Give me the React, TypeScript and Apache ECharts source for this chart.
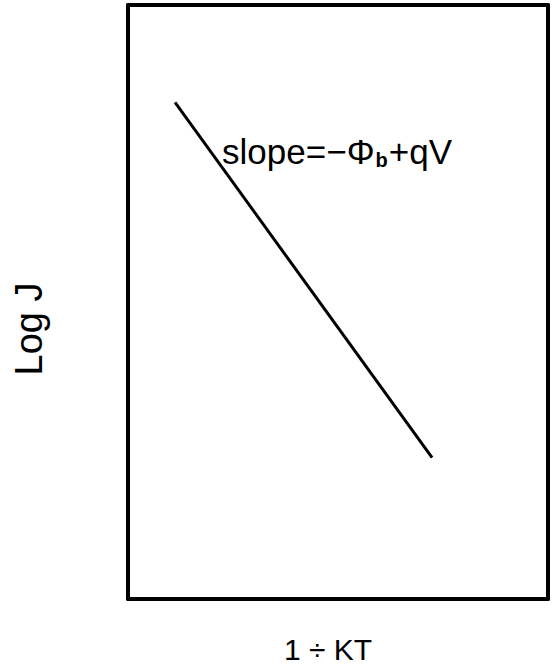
import React, { useEffect, useRef } from "react";
import * as echarts from "echarts";

// Schematic Arrhenius-type plot: Log J against 1/KT
const xRange = [0, 10];
const yRange = [0, 10];
const lineX = [1.12, 7.24];
const lineY = [8.36, 2.38];
const xTitle = "1 ÷ KT";
const yTitle = "Log J";

export default function App() {
  const ref = useRef<HTMLDivElement>(null);
  useEffect(() => {
    if (!ref.current) return;
    const chart = echarts.init(ref.current, null, { renderer: "svg" });
    const font = "'Liberation Sans', Arial, sans-serif";
    const frame = { show: true, onZero: false, lineStyle: { color: "#000", width: 4 } };
    const hidden = {
      axisTick: { show: false },
      axisLabel: { show: false },
      splitLine: { show: false },
    };
    chart.setOption({
      animation: false,
      backgroundColor: "#fff",
      grid: { left: 128, right: 8, top: 5, bottom: 70 },
      xAxis: [
        {
          type: "value",
          position: "bottom",
          min: xRange[0],
          max: xRange[1],
          name: xTitle,
          nameLocation: "middle",
          nameGap: 35,
          nameTextStyle: {
            color: "#000",
            fontSize: 30,
            fontFamily: font,
            padding: [0, 20, 0, 0],
          },
          axisLine: frame,
          ...hidden,
        },
        {
          type: "value",
          position: "top",
          min: xRange[0],
          max: xRange[1],
          axisLine: frame,
          ...hidden,
        },
      ],
      yAxis: [
        {
          type: "value",
          position: "left",
          min: yRange[0],
          max: yRange[1],
          name: yTitle,
          nameLocation: "middle",
          nameGap: 80,
          nameTextStyle: {
            color: "#000",
            fontSize: 38,
            fontFamily: font,
            padding: [0, 54, 0, 0],
          },
          axisLine: frame,
          ...hidden,
        },
        {
          type: "value",
          position: "right",
          min: yRange[0],
          max: yRange[1],
          axisLine: frame,
          ...hidden,
        },
      ],
      series: [
        {
          type: "line",
          xAxisIndex: 0,
          yAxisIndex: 0,
          data: lineX.map((x, i) => [x, lineY[i]]),
          symbol: "none",
          lineStyle: { color: "#000", width: 3 },
          markPoint: {
            symbol: "rect",
            symbolSize: 0,
            data: [
              {
                coord: [2.24, 7.54],
                label: {
                  show: true,
                  position: "right",
                  distance: 0,
                  formatter: "{m|slope}{m|=−Φ}{s|b}{m|+qV}",
                  rich: {
                    m: {
                      color: "#000",
                      fontSize: 35,
                      fontFamily: font,
                    },
                    s: {
                      color: "#000",
                      fontSize: 20,
                      fontWeight: "bold",
                      fontFamily: font,
                      padding: [17, 1, 0, 1],
                    },
                  },
                },
              },
            ],
          },
        },
      ],
    });
    return () => chart.dispose();
  }, []);
  return (
    <div
      ref={ref}
      style={{ position: "fixed", left: 0, top: 0, width: 556, height: 669 }}
    />
  );
}
